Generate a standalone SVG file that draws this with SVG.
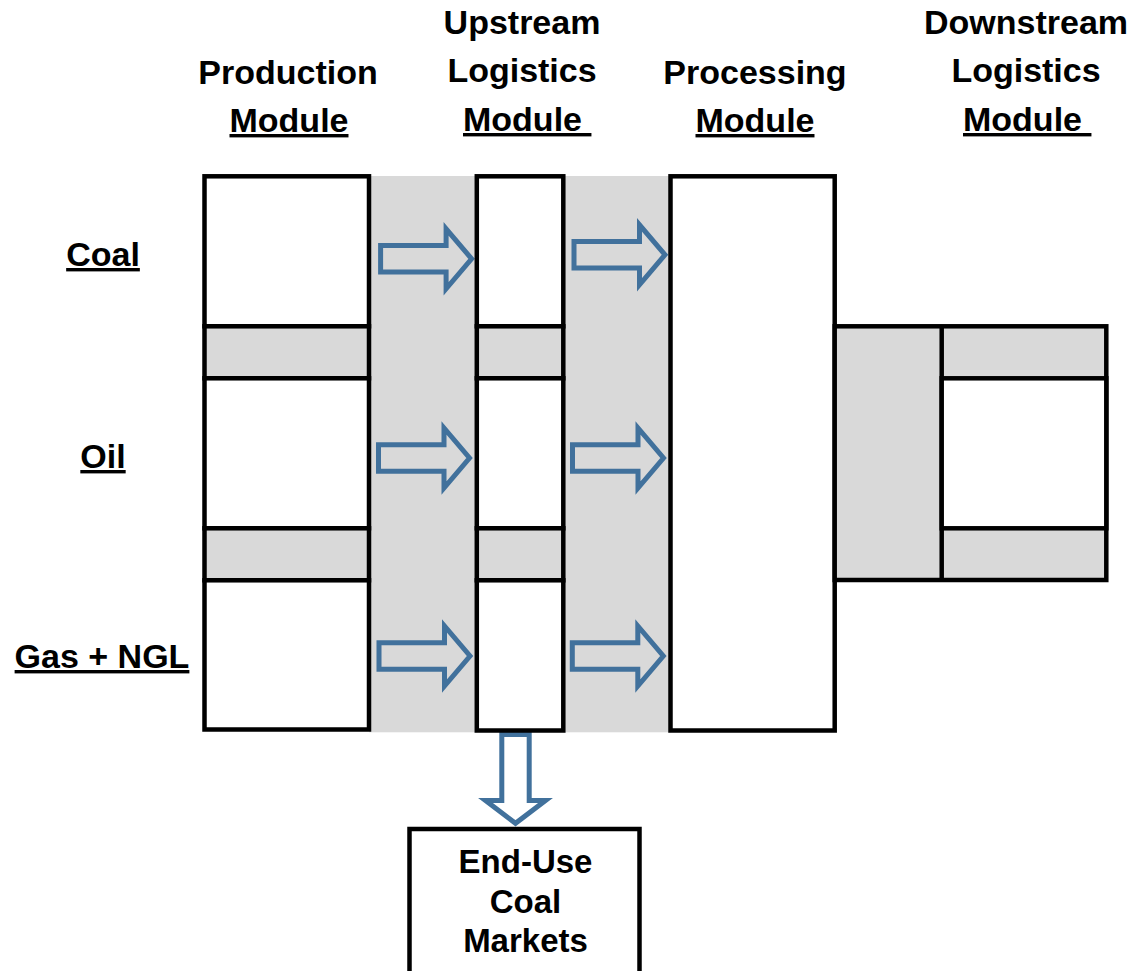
<svg xmlns="http://www.w3.org/2000/svg" width="1133" height="971" viewBox="0 0 1133 971">
<style>
.t{font-family:"Liberation Sans",Arial,sans-serif;font-weight:bold;font-size:34px;fill:#000;text-anchor:middle}
.u{text-decoration:underline}
.box{fill:#fff;stroke:#000;stroke-width:4.5}
.gbox{fill:#d9d9d9;stroke:#000;stroke-width:4.5}
.band{fill:#d9d9d9}
.arr{fill:none;stroke:#41719c;stroke-width:5;stroke-miterlimit:10}
</style>
<defs>
<path id="ra" d="M-91,-13.2 H-25.5 V-30 L0,0 L-25.5,30 V13.2 H-91 Z"/>
</defs>
<rect width="1133" height="971" fill="#fff"/>
<g id="headers">
<text class="t" x="288" y="84">Production</text>
<text class="t u" x="289" y="132">Module</text>
<text class="t" x="522" y="34">Upstream</text>
<text class="t" x="522" y="82">Logistics</text>
<text class="t u" x="463" y="131" style="text-anchor:start" xml:space="preserve">Module </text>
<text class="t" x="755" y="84">Processing</text>
<text class="t u" x="755" y="132">Module</text>
<text class="t" x="1026" y="34">Downstream</text>
<text class="t" x="1026" y="82">Logistics</text>
<text class="t u" x="963" y="131" style="text-anchor:start" xml:space="preserve">Module </text>
</g>
<g id="row-labels">
<text class="t u" x="103" y="266">Coal</text>
<text class="t u" x="103" y="468">Oil</text>
<text class="t u" x="102" y="668">Gas + NGL</text>
</g>
<g id="bands">
<rect class="band" x="369" y="176" width="108" height="556.3"/>
<rect class="band" x="563" y="176" width="108" height="556.3"/>
</g>
<g id="connectors">
<use href="#ra" class="arr" transform="translate(471.6,258.8)"/>
<use href="#ra" class="arr" transform="translate(665,254.8)"/>
<use href="#ra" class="arr" transform="translate(469.5,458)"/>
<use href="#ra" class="arr" transform="translate(663.5,458)"/>
<use href="#ra" class="arr" transform="translate(470,656)"/>
<use href="#ra" class="arr" transform="translate(663.3,656)"/>
<use href="#ra" class="arr" transform="translate(935.6,458.3)"/>
<path class="arr" d="M501.8,734.5 V800.5 H485.5 L515.5,823.3 L545.5,800.5 H529.2 V734.5 Z"/>
</g>
<g id="production-module">
<rect class="box" x="204.5" y="176.3" width="164.5" height="150"/>
<rect class="gbox" x="204.5" y="326.3" width="164.5" height="52"/>
<rect class="box" x="204.5" y="378.3" width="164.5" height="150"/>
<rect class="gbox" x="204.5" y="528.3" width="164.5" height="52"/>
<rect class="box" x="204.5" y="580.3" width="164.5" height="149.2"/>
</g>
<g id="upstream-logistics-module">
<rect class="box" x="476.8" y="176.3" width="86.5" height="150"/>
<rect class="gbox" x="476.8" y="326.3" width="86.5" height="52"/>
<rect class="box" x="476.8" y="378.3" width="86.5" height="150"/>
<rect class="gbox" x="476.8" y="528.3" width="86.5" height="52"/>
<rect class="box" x="476.8" y="580.3" width="86.5" height="150.2"/>
</g>
<g id="processing-module">
<rect class="box" x="670.5" y="176.3" width="164.2" height="554.2"/>
</g>
<g id="downstream-logistics-module">
<rect class="gbox" x="834.7" y="326.3" width="271.6" height="253.7"/>
<line x1="941.7" y1="326.3" x2="941.7" y2="580" stroke="#000" stroke-width="4.5"/>
<rect class="box" x="941.7" y="378.3" width="164.6" height="150"/>
</g>
<g id="end-use-coal-markets">
<rect class="box" x="409.5" y="829" width="230" height="170"/>
<text class="t" x="525.5" y="873" style="font-size:33px">End-Use</text>
<text class="t" x="525.5" y="913" style="font-size:33px">Coal</text>
<text class="t" x="525.5" y="952" style="font-size:33px">Markets</text>
</g>
</svg>
